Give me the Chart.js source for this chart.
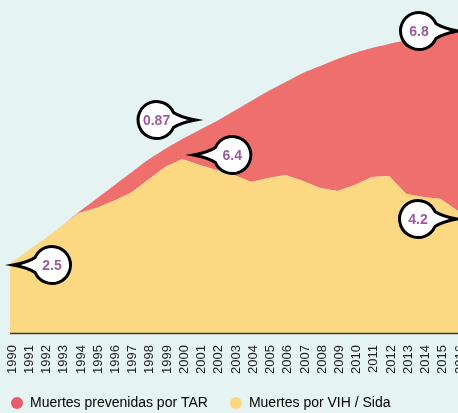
<!DOCTYPE html>
<html>
<head>
<meta charset="utf-8">
<script src="https://cdn.jsdelivr.net/npm/chart.js@4/dist/chart.umd.min.js"></script>
<style>
    html, body { margin: 0; padding: 0; background: #e6f3f3; overflow: hidden; }
    #wrap { position: relative; width: 458px; height: 413px; overflow: hidden; }
    #chart { position: absolute; left: -11px; top: 0; }
</style>
</head>
<body>
<div id="wrap"><canvas id="chart" width="483" height="413"></canvas></div>
<script>
'use strict';

const years = ['1990','1991','1992','1993','1994','1995','1996','1997','1998','1999','2000','2001','2002',
    '2003','2004','2005','2006','2007','2008','2009','2010','2011','2012','2013','2014','2015','2016'];

// muertes por VIH / Sida (base del area)
const muertesVih = [6.9, 8.2, 9.4, 10.7, 12.0, 12.5, 13.2, 14.0, 15.3, 16.6, 17.4, 16.8, 16.3,
    15.8, 15.1, 15.5, 15.8, 15.2, 14.5, 14.2, 14.8, 15.6, 15.7, 13.9, 13.6, 13.4, 12.2];

// muertes prevenidas por TAR (apiladas encima)
const muertesPrevenidas = [0, 0, 0, 0, 0.1, 0.9, 1.5, 2.0, 2.0, 1.8, 2.0, 3.5, 4.9,
    6.4, 8.1, 8.7, 9.3, 10.8, 12.2, 13.2, 13.2, 12.9, 13.2, 15.4, 16.1, 16.6, 18.1];

const seriesNames = ['Muertes por VIH / Sida', 'Muertes prevenidas por TAR'];

const bubbleTexts = ['2.5', '6.4', '0.87', '6.8', '4.2'];

const fontFamily = '"Liberation Sans", Arial, Helvetica, sans-serif';

function totalAt(i){
    return muertesVih[i] + muertesPrevenidas[i];
}

// where each bubble points: serie, year index, small nudge, side of the bubble
const bubbleAnchors = [
    { value: totalAt(0), i: 0, dx: 3, dy: 1, dir: 1 },
    { value: muertesVih[10], i: 10, dx: 11, dy: -4, dir: 1 },
    { value: totalAt(11), i: 11, dx: -4, dy: -10, dir: -1 },
    { value: totalAt(26), i: 26, dx: 0, dy: 1, dir: -1 },
    { value: muertesVih[26], i: 26, dx: -1, dy: 8, dir: -1 },
];

function drawBubble(c, tipX, tipY, dir, text){
    const r = 18.5;
    const dist = 39;
    const cx = tipX + dir * dist;
    const cy = tipY;
    const base = dir > 0 ? Math.PI : 0;
    const a = 0.42;

    c.beginPath();
    c.arc(cx, cy, r, base + a, base - a + Math.PI * 2);
    c.quadraticCurveTo(cx + (r + 5) * Math.cos(base - a * 0.3), cy + (r + 5) * Math.sin(base - a * 0.3), tipX, tipY);
    c.quadraticCurveTo(cx + (r + 5) * Math.cos(base + a * 0.3), cy + (r + 5) * Math.sin(base + a * 0.3),
        cx + r * Math.cos(base + a), cy + r * Math.sin(base + a));
    c.closePath();
    c.fillStyle = '#ffffff';
    c.fill();
    c.lineWidth = 3;
    c.lineJoin = 'miter';
    c.miterLimit = 12;
    c.strokeStyle = '#000000';
    c.stroke();

    c.fillStyle = '#9b5c9e';
    c.font = 'bold 14px ' + fontFamily;
    c.textAlign = 'center';
    c.textBaseline = 'middle';
    c.fillText(text, cx, cy + 1);
}

const bubblesPlugin = {
    id: 'bubbles',
    afterDatasetsDraw(chart){
        const c = chart.ctx;
        const xs = chart.scales.x;
        const ys = chart.scales.y;
        const area = chart.chartArea;
        c.save();
        // base line of the x axis
        c.beginPath();
        c.moveTo(area.left, area.bottom + 0.5);
        c.lineTo(area.right + 20, area.bottom + 0.5);
        c.lineWidth = 1.6;
        c.strokeStyle = '#3a3a3a';
        c.stroke();

        bubbleAnchors.forEach((b, k) => {
            const x = xs.getPixelForValue(b.i) + b.dx;
            const y = ys.getPixelForValue(b.value) + b.dy;
            drawBubble(c, x, y, b.dir, bubbleTexts[k]);
        });
        c.restore();
    }
};

const legendColors = ['#fdd680', '#ea5a6f'];

const ctx = document.getElementById('chart');

const grafico = new Chart(ctx, {
    type: 'line',
    data: {
        labels: years,
        datasets: [{
            label: seriesNames[0],
            data: muertesVih,
            backgroundColor: '#fdd883',
            borderWidth: 0,
            pointRadius: 0,
            tension: 0,
            fill: 'origin',
        }, {
            label: seriesNames[1],
            data: muertesPrevenidas,
            backgroundColor: '#ee6f6c',
            borderWidth: 0,
            pointRadius: 0,
            tension: 0.25,
            fill: '-1',
        }]
    },
    options: {
        responsive: false,
        animation: false,
        layout: { padding: 0 },
        scales: {
            x: {
                type: 'category',
                offset: false,
                grid: { display: false, drawTicks: false },
                border: { display: false },
                ticks: {
                    autoSkip: false,
                    minRotation: 90,
                    maxRotation: 90,
                    padding: 12,
                    labelOffset: 2,
                    color: '#1e1e1e',
                    font: { family: fontFamily, size: 13 },
                },
                afterFit(scale){
                    scale.paddingLeft = 21;
                    scale.paddingRight = 14;
                    scale.height = 41;
                }
            },
            y: {
                display: false,
                stacked: true,
                min: 0,
                max: 33.3,
            }
        },
        plugins: {
            tooltip: { enabled: false },
            legend: {
                position: 'bottom',
                align: 'start',
                maxHeight: 39,
                labels: {
                    usePointStyle: true,
                    pointStyleWidth: 12,
                    boxHeight: 8.5,
                    padding: 22,
                    color: '#1a1a1a',
                    font: { family: fontFamily, size: 14 },
                    generateLabels(chart){
                        return [1, 0].map(i => ({
                            text: chart.data.datasets[i].label,
                            fillStyle: legendColors[i],
                            strokeStyle: legendColors[i],
                            lineWidth: 0,
                            pointStyle: 'circle',
                            hidden: false,
                            datasetIndex: i,
                        }));
                    }
                }
            }
        }
    },
    plugins: [bubblesPlugin]
});
</script>
</body>
</html>
